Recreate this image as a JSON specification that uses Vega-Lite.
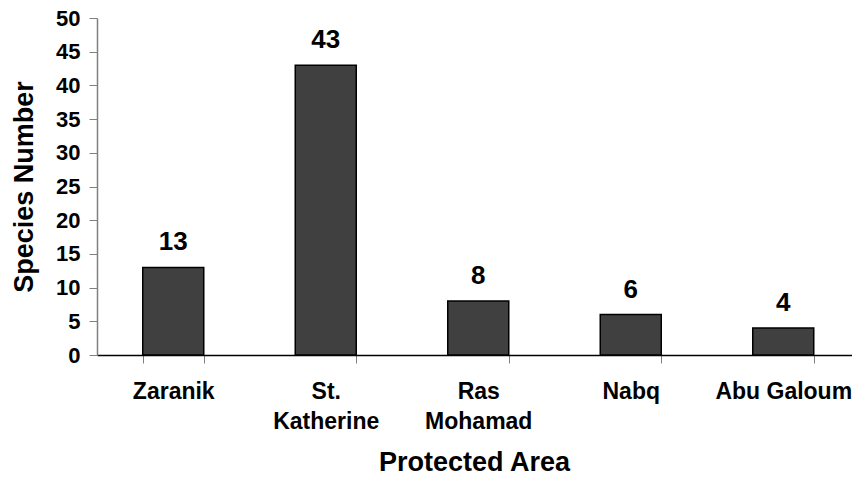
{
  "$schema": "https://vega.github.io/schema/vega-lite/v6.json",
  "width": 755,
  "height": 337,
  "autosize": {"type": "none"},
  "padding": {"left": 97, "top": 18, "right": 0, "bottom": 122},
  "background": "white",
  "config": {
    "view": {"stroke": null},
    "font": "Liberation Sans"
  },
  "data": {
    "values": [
      {"key": "Zaranik", "species": 13},
      {"key": "St. Katherine", "species": 43},
      {"key": "Ras Mohamad", "species": 8},
      {"key": "Nabq", "species": 6},
      {"key": "Abu Galoum", "species": 4}
    ]
  },
  "encoding": {
    "x": {
      "field": "key",
      "type": "nominal",
      "sort": null,
      "scale": {"paddingInner": 0.6, "paddingOuter": 0.3, "range": [0, 762.5]},
      "axis": {
        "title": "Protected Area",
        "labelAngle": 0,
        "labelExpr": "datum.value == 'St. Katherine' ? ['St.', 'Katherine'] : datum.value == 'Ras Mohamad' ? ['Ras', 'Mohamad'] : datum.value",
        "labelFont": "Liberation Sans",
        "labelFontSize": 23,
        "labelFontWeight": "bold",
        "labelColor": "black",
        "labelLineHeight": 30,
        "labelPadding": 17,
        "labelOverlap": false,
        "labelBound": false,
        "tickBand": "extent",
        "tickSize": 8,
        "tickColor": "#808080",
        "domainColor": "black",
        "domainWidth": 1.5,
        "titleFont": "Liberation Sans",
        "titleFontSize": 27,
        "titleFontWeight": "bold",
        "titleColor": "black",
        "titlePadding": 16,
        "titleX": 377,
        "grid": false
      }
    },
    "y": {
      "field": "species",
      "type": "quantitative",
      "scale": {"domain": [0, 50], "nice": false},
      "axis": {
        "title": "Species Number",
        "values": [0, 5, 10, 15, 20, 25, 30, 35, 40, 45, 50],
        "labelFont": "Liberation Sans",
        "labelFontSize": 22,
        "labelFontWeight": "bold",
        "labelColor": "black",
        "labelPadding": 9,
        "tickSize": 8,
        "tickColor": "#808080",
        "domainColor": "#808080",
        "domainWidth": 1.5,
        "titleFont": "Liberation Sans",
        "titleFontSize": 27,
        "titleFontWeight": "bold",
        "titleColor": "black",
        "titlePadding": 17,
        "grid": false
      }
    }
  },
  "layer": [
    {
      "mark": {"type": "bar", "color": "#404040", "stroke": "black", "strokeWidth": 1.5}
    },
    {
      "mark": {"type": "text", "baseline": "alphabetic", "dy": -17, "fontSize": 26, "fontWeight": "bold", "font": "Liberation Sans", "color": "black"},
      "encoding": {"text": {"field": "species", "type": "quantitative"}}
    }
  ]
}
